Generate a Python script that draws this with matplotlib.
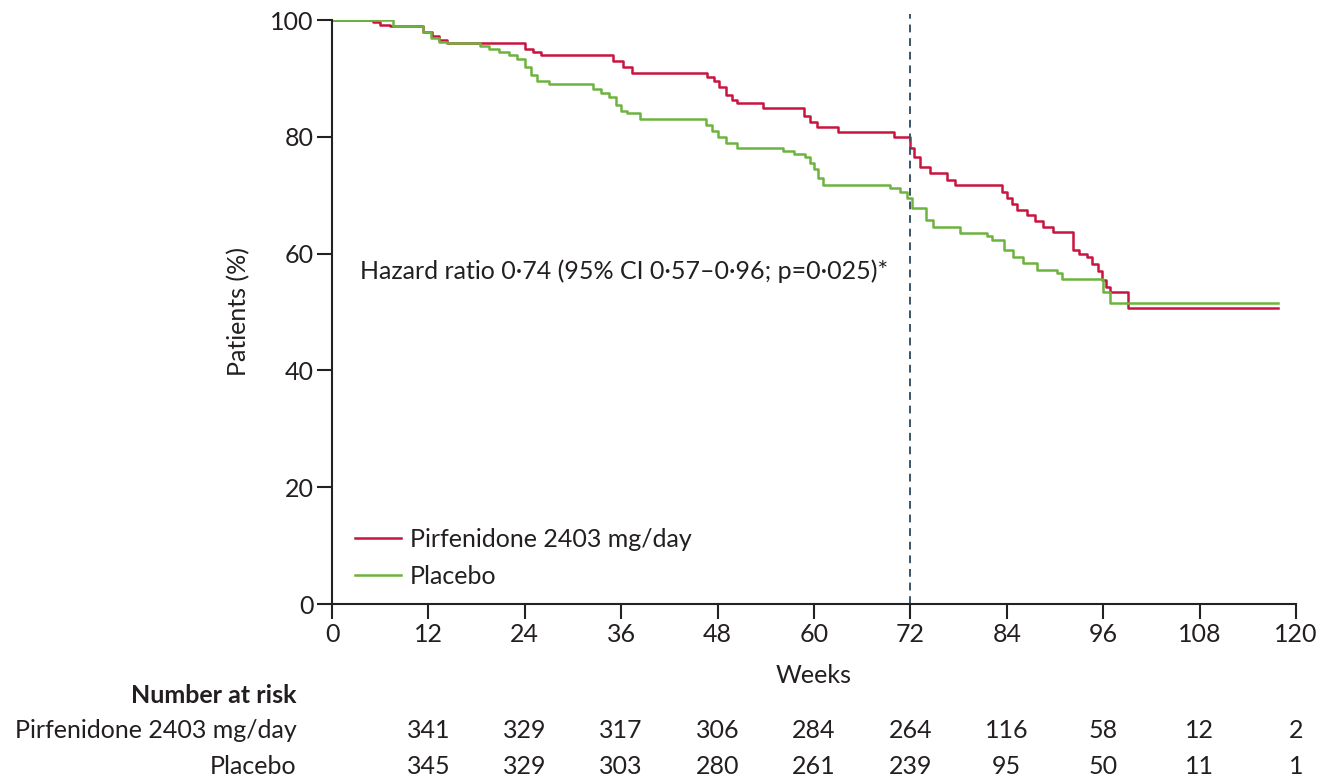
import matplotlib
matplotlib.use("Agg")
import matplotlib.pyplot as plt

plt.rcParams["font.family"] = ["Lato", "DejaVu Sans"]

# Kaplan-Meier step data (weeks, % patients event-free)
pirf_weeks = [0, 5.1, 6.0, 7.2, 11.3, 12.5, 13.3, 14.3, 24.0, 25.0, 26.0, 35.0,
              36.2, 37.4, 46.7, 47.5, 48.2, 49.0, 49.8, 50.4, 53.7, 58.7, 59.5,
              60.4, 63.0, 69.9, 72.0, 72.4, 73.2, 74.5, 76.6, 77.6, 83.4, 84.0,
              84.7, 85.3, 86.5, 87.5, 88.5, 89.8, 92.3, 93.0, 94.0, 94.6, 95.3,
              95.9, 96.4, 96.9, 99.1, 117.8]
pirf_surv = [100, 99.6, 99.2, 99.0, 98.0, 97.2, 96.5, 96.0, 95.0, 94.5, 94.0, 93.0,
             92.0, 91.0, 90.3, 89.5, 88.5, 87.2, 86.3, 85.8, 84.9, 83.5, 82.5,
             81.7, 80.8, 80.0, 78.0, 76.5, 74.8, 73.8, 72.6, 71.7, 70.5, 69.5,
             68.5, 67.5, 66.6, 65.5, 64.5, 63.7, 60.6, 60.0, 59.4, 58.2, 57.0,
             55.5, 54.3, 53.4, 50.7, 50.7]

plac_weeks = [0, 7.6, 11.3, 12.3, 13.3, 14.3, 18.4, 19.5, 20.8, 22.0, 23.0, 24.0,
              24.8, 25.5, 27.0, 32.5, 33.5, 34.5, 35.3, 36.0, 36.7, 38.4, 46.5,
              47.3, 48.0, 49.0, 50.4, 56.2, 57.5, 58.9, 59.5, 60.0, 60.5, 61.1,
              69.5, 70.7, 71.6, 72.2, 74.0, 74.8, 78.2, 81.5, 82.2, 83.6, 84.8,
              86.0, 87.8, 90.3, 90.9, 96.0, 96.9, 117.8]
plac_surv = [100, 99.0, 98.0, 97.0, 96.2, 96.0, 95.5, 95.0, 94.5, 94.0, 93.3, 92.0,
             90.5, 89.5, 89.0, 88.2, 87.5, 86.8, 85.5, 84.5, 84.0, 83.0, 82.0,
             81.0, 80.0, 79.0, 78.0, 77.5, 77.0, 76.5, 75.5, 74.5, 73.0, 71.7,
             71.2, 70.5, 69.5, 67.8, 65.8, 64.5, 63.5, 63.0, 62.3, 60.6, 59.4,
             58.4, 57.2, 56.7, 55.6, 53.5, 51.5, 51.5]

x_ticks = [0, 12, 24, 36, 48, 60, 72, 84, 96, 108, 120]
y_ticks = [0, 20, 40, 60, 80, 100]

risk_weeks = [12, 24, 36, 48, 60, 72, 84, 96, 108, 120]
risk_pirf = [341, 329, 317, 306, 284, 264, 116, 58, 12, 2]
risk_plac = [345, 329, 303, 280, 261, 239, 95, 50, 11, 1]

pirf_color = "#c8143f"
plac_color = "#6db33f"
text_color = "#231f20"
fs = 18

fig = plt.figure(figsize=(13.2, 7.8), dpi=100)
ax = fig.add_axes([332 / 1320, 1 - 604 / 780, 964 / 1320, 584 / 780])

ax.step(pirf_weeks, pirf_surv, where="post", color=pirf_color, lw=1.8,
        label="Pirfenidone 2403 mg/day")
ax.step(plac_weeks, plac_surv, where="post", color=plac_color, lw=1.8,
        label="Placebo")
ax.axvline(72, ymax=1.01, color="#3a5568", lw=1.4, ls=(0, (4, 3)), clip_on=False)

ax.set_xlim(0, 120)
ax.set_ylim(0, 100)
ax.set_xticks(x_ticks)
ax.set_yticks(y_ticks)
for s in ["top", "right"]:
    ax.spines[s].set_visible(False)
for s in ["left", "bottom"]:
    ax.spines[s].set_linewidth(1.5)
    ax.spines[s].set_color("#222222")
ax.tick_params(axis="both", direction="out", length=11, width=1.5,
               labelsize=fs, colors="#222222", labelcolor=text_color)
ax.tick_params(axis="y", pad=2)
ax.tick_params(axis="x", pad=3)

ax.set_xlabel("Weeks", fontsize=fs, color=text_color)
ax.xaxis.set_label_coords(0.5, -0.103)
ax.set_ylabel("Patients (%)", fontsize=fs, color=text_color)
ax.yaxis.set_label_coords(-0.085, 0.5)

ax.text(3.5, 57, "Hazard ratio 0·74 (95% CI 0·57–0·96; p=0·025)*",
        fontsize=fs, color=text_color, va="center", ha="left")

ax.legend(loc="lower left", bbox_to_anchor=(0.024, 0.028), frameon=False,
          borderpad=0, borderaxespad=0,
          fontsize=fs, handlelength=1.85, handletextpad=0.35, labelspacing=0.55,
          labelcolor=text_color)

# number-at-risk table below the axis
tr = ax.get_xaxis_transform()
row_y = [-0.217, -0.279]
lab_x = -0.037
ax.text(lab_x, -0.156, "Number at risk", transform=ax.transAxes,
        fontsize=fs, fontweight="bold", color=text_color, ha="right", va="center")
ax.text(lab_x, row_y[0], "Pirfenidone 2403 mg/day", transform=ax.transAxes,
        fontsize=fs, color=text_color, ha="right", va="center")
ax.text(lab_x, row_y[1], "Placebo", transform=ax.transAxes,
        fontsize=fs, color=text_color, ha="right", va="center")
for w, a, b in zip(risk_weeks, risk_pirf, risk_plac):
    ax.text(w, row_y[0], str(a), transform=tr, fontsize=fs, color=text_color,
            ha="center", va="center", clip_on=False)
    ax.text(w, row_y[1], str(b), transform=tr, fontsize=fs, color=text_color,
            ha="center", va="center", clip_on=False)

fig.savefig("out.png", dpi=100)
